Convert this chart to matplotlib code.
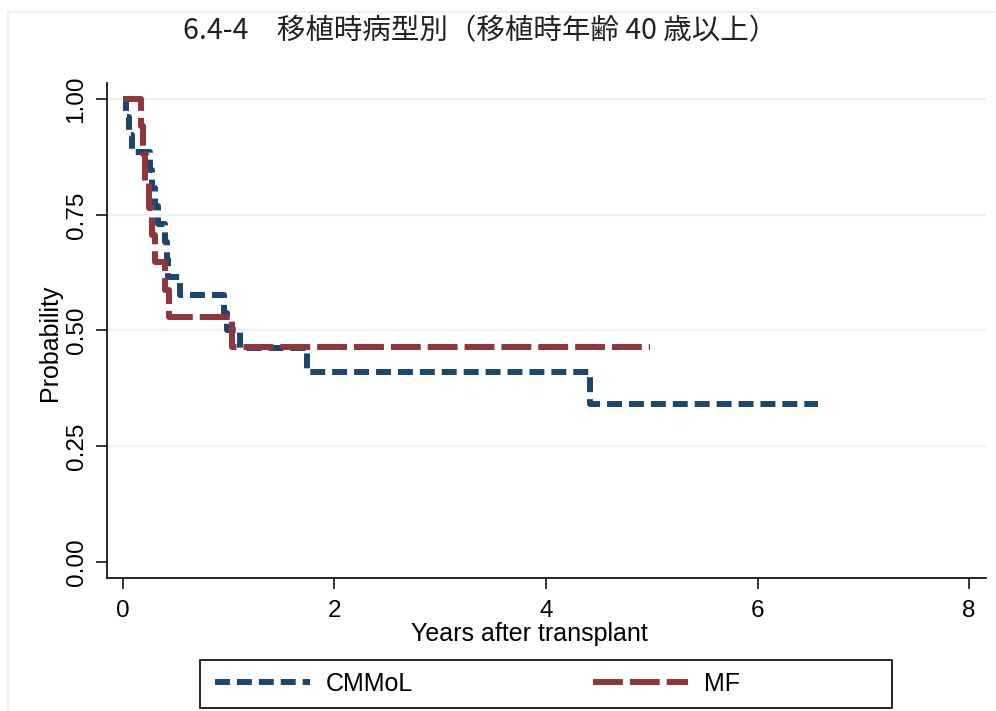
import matplotlib
matplotlib.use("Agg")
import matplotlib.pyplot as plt
from matplotlib.patches import Rectangle

plt.rcParams['font.family'] = ['Liberation Sans', 'DejaVu Sans']

title = "6.4-4\u3000移植時病型別（移植時年齢 40 歳以上）"

# Kaplan-Meier steps
cmmol_t = [0, 0.03, 0.06, 0.09, 0.255, 0.28, 0.30, 0.33, 0.40, 0.42, 0.43,
           0.54, 0.955, 0.98, 1.106, 1.74, 4.42, 6.57]
cmmol_s = [1.0, 0.962, 0.923, 0.885, 0.846, 0.808, 0.769, 0.731, 0.692, 0.654,
           0.615, 0.577, 0.538, 0.50, 0.462, 0.41, 0.342, 0.342]

mf_t = [0, 0.17, 0.19, 0.21, 0.25, 0.28, 0.30, 0.40, 0.44, 1.03, 4.98]
mf_s = [1.0, 0.941, 0.882, 0.824, 0.765, 0.706, 0.647, 0.588, 0.529, 0.464, 0.464]

xticks = [0, 2, 4, 6, 8]
yticks = [0.0, 0.25, 0.50, 0.75, 1.00]

blue = '#1A476F'
red = '#90353B'
grid = '#EAF2F3'

fig = plt.figure(figsize=(9.96, 7.11), dpi=100)
W, H = 996, 711
ax = fig.add_axes([107 / W, 1 - 578 / H, 879 / W, 495 / H])

for yv in yticks[1:]:
    ax.axhline(yv, color=grid, lw=1.6, zorder=0)

l1, = ax.step(cmmol_t, cmmol_s, where='post', color=blue, lw=4.3,
              dashes=(2.5, 1.17), label='CMMoL')
l2, = ax.step(mf_t, mf_s, where='post', color=red, lw=4.3,
              dashes=(5.0, 1.17), label='MF')

ax.set_xlim(-0.15, 8.16)
ax.set_ylim(-0.035, 1.035)
ax.set_xticks(xticks)
ax.set_yticks(yticks)
ax.set_yticklabels(['%.2f' % v for v in yticks], rotation=90, va='center')

for s in ['top', 'right']:
    ax.spines[s].set_visible(False)
for s in ['left', 'bottom']:
    ax.spines[s].set_linewidth(1.2)

ax.tick_params(axis='both', direction='out', length=8, width=1.1, labelsize=17.5)
ax.tick_params(axis='x', pad=8)
ax.tick_params(axis='y', pad=6)

fig.text(529 / W, 1 - 634 / H, 'Years after transplant', ha='center',
         va='center', fontsize=18)
fig.text(50 / W, 1 - 343 / H, 'Probability', ha='center', va='center',
         rotation=90, fontsize=18)

fig.text(480 / W, 1 - 31 / H, title, ha='center', va='center', fontsize=20.5,
         color='#222222', family=['Noto Sans CJK JP', 'DejaVu Sans'])

# legend box + entries
fig.add_artist(Rectangle((200 / W, 1 - 708 / H), 692 / W, 48 / H,
                         transform=fig.transFigure, fill=False,
                         ec='black', lw=1.2))
fig.legend(handles=[l1, l2], loc='center left',
           bbox_to_anchor=(205 / W, 1 - 684 / H), ncol=2, frameon=False,
           fontsize=18, handlelength=3.8, handletextpad=0.64,
           columnspacing=7.2, borderaxespad=0)

# faint outer frame
fig.add_artist(Rectangle((8 / W, -0.1), 1.1, 1.1 - 12 / H,
                         transform=fig.transFigure, fill=False,
                         ec=grid, lw=1.5))

fig.savefig('out.png', dpi=100)
